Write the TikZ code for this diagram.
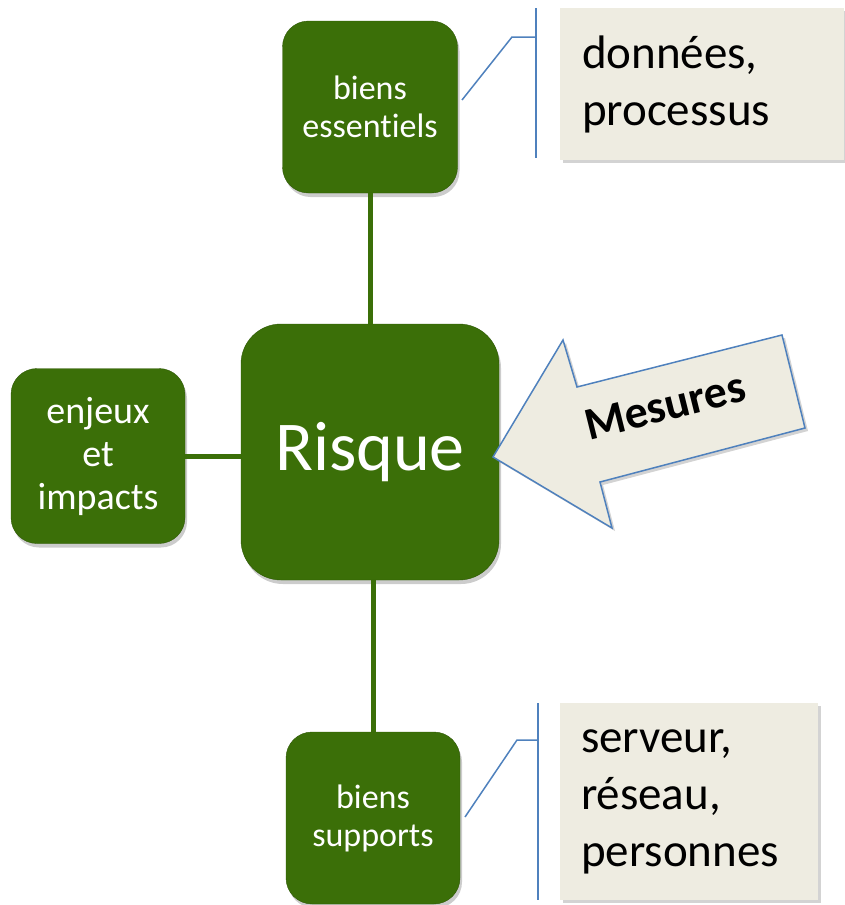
\documentclass[tikz,border=0pt]{standalone}
\usepackage{fontspec}
\setmainfont{Carlito}[Ligatures={NoCommon}]
\usetikzlibrary{arrows,shadows}
\tikzset{
greenbox/.style={draw={rgb, 255:red, 46; green, 88; blue, 6 }, fill={rgb, 255:red, 59; green, 111; blue, 8 }, rounded corners=26pt, text=white, align=center, font=\fontsize{34}{38}\selectfont,
  drop shadow={shadow xshift=2pt, shadow yshift=-4pt, opacity=0.4}},
link/.style={draw={rgb, 255:red, 59; green, 111; blue, 8 }, line width=5pt},
notebox/.style={fill={rgb, 255:red, 238; green, 236; blue, 225 }, inner sep=0pt, align=left, font=\fontsize{47}{57}\selectfont,
  drop shadow={shadow xshift=3pt, shadow yshift=-3pt, opacity=0.35}},
callout/.style={color={rgb, 255:red, 79; green, 129; blue, 189 }, line width=1.5pt},
arrowshape/.style={color={rgb, 255:red, 79; green, 129; blue, 189 }, line width=1.5pt, fill={rgb, 255:red, 238; green, 236; blue, 225 },
  drop shadow={shadow xshift=3pt, shadow yshift=-3pt, opacity=0.35}}
}

\begin{document}
\begin{tikzpicture}[x=1pt,y=1pt,yscale=-1,xscale=1]
\useasboundingbox (0,0) rectangle (844,905);

%Shape: Rounded Rect [biens essentiels]
\node[greenbox, minimum width=175pt, minimum height=172pt] (ess) at (370,107) {biens\\essentiels};
%Shape: Rounded Rect [Risque]
\node[greenbox, rounded corners=40pt, minimum width=258pt, minimum height=256pt, font=\fontsize{70}{84}\selectfont] (risk) at (370,452) {Risque};
%Shape: Rounded Rect [enjeux et impacts]
\node[greenbox, minimum width=174pt, minimum height=175pt, font=\fontsize{38}{43}\selectfont] (enj) at (98,456) {enjeux\\et\\impacts};
%Shape: Rounded Rect [biens supports]
\node[greenbox, minimum width=174pt, minimum height=172pt] (sup) at (373,818) {biens\\supports};

%Straight Lines
\draw[link] (ess.south) -- (risk.north -| ess.south);
\draw[link] (enj.east) -- (risk.west |- enj.east);
\draw[link] (sup.north) -- (risk.south -| sup.north);

%Shape: Callout [top]
\node[notebox, minimum width=284pt, minimum height=152pt, text width=240pt] (essNote) at (702,84) {données,\\processus};
\coordinate (essA) at (462,100);
\coordinate (essB) at (512,37);
\coordinate (essC) at (536,37);
\coordinate (essBarT) at (536,8);
\coordinate (essBarB) at (536,158);
\draw[callout] (essA) -- (essB) -- (essC);
\draw[callout] (essBarT) -- (essBarB);

%Shape: Callout [bottom]
\node[notebox, minimum width=258pt, minimum height=197pt, text width=216pt] (supNote) at (689,801.5) {serveur,\\réseau,\\personnes};
\coordinate (supA) at (465,817);
\coordinate (supB) at (517,740);
\coordinate (supC) at (538,740);
\coordinate (supBarT) at (538,703);
\coordinate (supBarB) at (538,900);
\draw[callout] (supA) -- (supB) -- (supC);
\draw[callout] (supBarT) -- (supBarB);

%Shape: Left Arrow [Mesures]
\draw[arrowshape] (493,457) -- (563,340) -- (577,387) -- (782,335) -- (805,428) -- (600,482) -- (612,528) -- cycle;
\node[rotate=14, font=\bfseries\fontsize{46}{52}\selectfont] (mes) at (665,406) {Mesures};

\end{tikzpicture}
\end{document}
